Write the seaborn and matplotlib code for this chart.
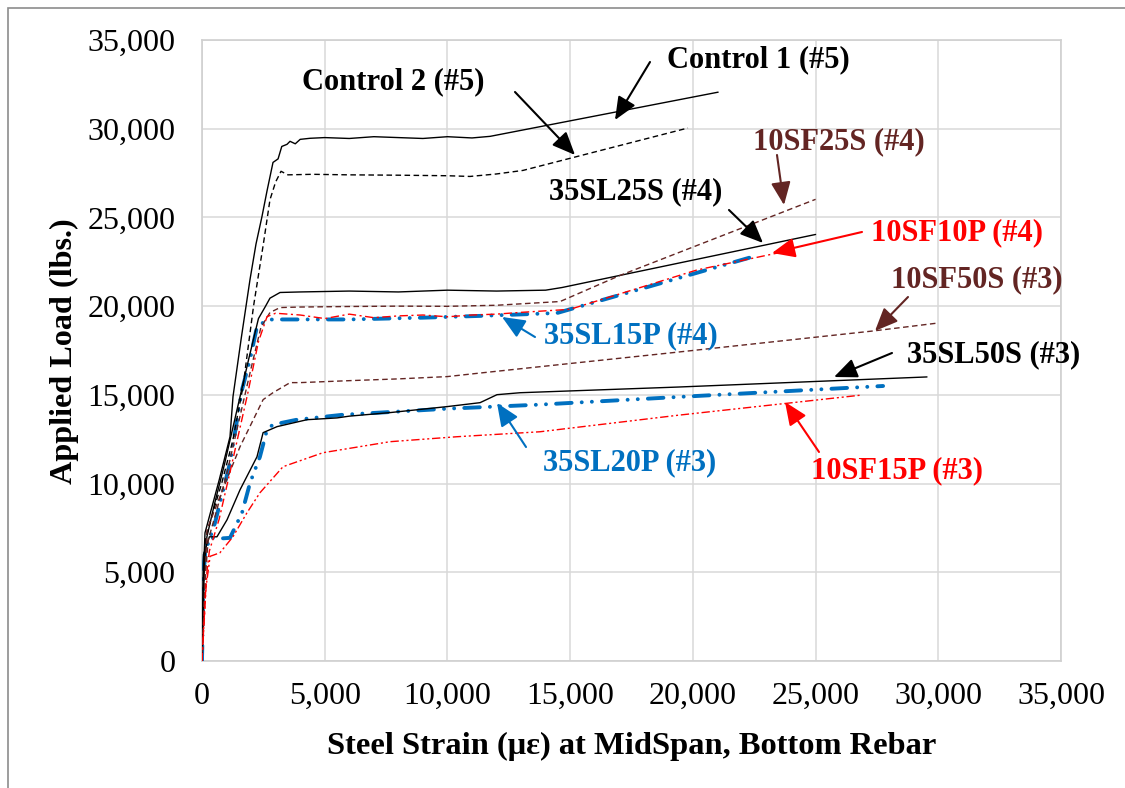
import matplotlib
matplotlib.use("Agg")
import matplotlib.pyplot as plt
import matplotlib.patches as mpatches
import seaborn as sns
import pandas as pd

# ---------------- data (strain in micro-strain, load in lbs) ----------------
c1_strain = [0, 60, 122, 407, 700, 1141, 1263, 1600, 1956, 2200, 2445, 2650, 2893, 3100, 3250, 3464, 3586, 3800, 4000, 4400, 5000, 6000, 7000, 8000, 9000, 10000, 11000, 11740, 21030]
c1_load = [0, 5000, 7220, 8690, 10200, 12640, 14900, 18200, 21500, 23500, 25060, 26500, 28100, 28300, 29000, 29120, 29290, 29150, 29400, 29460, 29500, 29450, 29550, 29500, 29450, 29550, 29480, 29570, 32060]

c2_strain = [0, 80, 150, 450, 800, 1250, 1670, 2100, 2500, 2770, 3000, 3220, 3500, 4500, 6000, 8000, 10000, 10920, 12000, 13080, 19800]
c2_load = [0, 5000, 6900, 8400, 10000, 12400, 15460, 20000, 23500, 26000, 27000, 27600, 27400, 27430, 27400, 27380, 27350, 27310, 27450, 27650, 30040]

sl25s_strain = [0, 100, 200, 500, 900, 1400, 1900, 2300, 2570, 2770, 3180, 4000, 6000, 8000, 10000, 12000, 14000, 14670, 25000]
sl25s_load = [0, 5500, 7000, 8800, 11000, 14000, 17000, 19300, 19950, 20450, 20770, 20800, 20850, 20800, 20900, 20850, 20900, 21050, 24040]

sf25s_strain = [0, 150, 250, 600, 1000, 1500, 2000, 2400, 2770, 3180, 4000, 6000, 8000, 10000, 12000, 14590, 17030, 25000]
sf25s_load = [0, 5000, 6800, 8500, 10500, 13500, 16500, 18800, 19640, 19920, 19950, 19980, 20000, 19990, 20050, 20260, 21730, 26020]

sf10p_strain = [0, 200, 300, 700, 1200, 1870, 2300, 2650, 3000, 4000, 5000, 6000, 7000, 8000, 9000, 10000, 11000, 12000, 13000, 14990, 20170, 23540]
sf10p_load = [0, 5000, 6200, 8000, 11000, 15120, 18000, 19410, 19600, 19500, 19300, 19550, 19350, 19450, 19500, 19400, 19500, 19550, 19650, 19820, 22040, 23020]

sl15p_strain = [0, 40, 122, 530, 1140, 1630, 1956, 2240, 2690, 3000, 6000, 9000, 11330, 14460, 22330]
sl15p_load = [0, 4570, 6100, 7790, 11160, 15290, 16990, 18850, 19240, 19250, 19250, 19350, 19450, 19610, 22740]

sf50s_strain = [0, 200, 730, 1550, 2490, 2890, 3590, 4000, 6000, 8000, 10000, 11330, 19390, 27340, 30000]
sf50s_load = [0, 7400, 9260, 12080, 14730, 15120, 15690, 15690, 15800, 15900, 16030, 16230, 17410, 18600, 19050]

sl50s_strain = [0, 60, 300, 610, 1020, 1550, 2240, 2490, 3060, 4280, 5500, 6000, 7660, 10000, 11330, 12020, 12960, 19390, 29540]
sl50s_load = [0, 6000, 7000, 7000, 7960, 9650, 11510, 12870, 13210, 13600, 13700, 13800, 14000, 14340, 14560, 15010, 15120, 15440, 16010]

sl20p_strain = [0, 40, 150, 300, 700, 1140, 1630, 1960, 2360, 2650, 2890, 3870, 5750, 10000, 13770, 19390, 27750]
sl20p_load = [0, 4500, 6500, 6950, 6900, 6940, 8350, 10050, 11510, 13040, 13320, 13600, 13880, 14220, 14450, 14880, 15500]

sf15p_strain = [0, 150, 330, 730, 1260, 1830, 2360, 3300, 4930, 7660, 10390, 13770, 19390, 26890]
sf15p_load = [0, 4000, 5900, 6100, 7000, 8350, 9480, 10950, 11740, 12360, 12640, 12920, 13850, 14990]

x_ticks = [0, 5000, 10000, 15000, 20000, 25000, 30000, 35000]
y_ticks = [0, 5000, 10000, 15000, 20000, 25000, 30000, 35000]

labels = ["Control 1 (#5)", "Control 2 (#5)", "10SF25S (#4)", "35SL25S (#4)", "10SF10P (#4)",
          "10SF50S (#3)", "35SL50S (#3)", "10SF15P (#3)", "35SL15P (#4)", "35SL20P (#3)"]

# ---------------- style ----------------
sns.set_style("white")
plt.rcParams["font.family"] = ["Liberation Serif", "DejaVu Serif"]
plt.rcParams["axes.labelcolor"] = "black"
plt.rcParams["text.color"] = "black"

BLACK = "#000000"
BROWN = "#632523"
RED = "#FF0000"
BLUE = "#0070C0"

fig = plt.figure(figsize=(11.25, 7.88), dpi=100)
ax = fig.add_axes([202 / 1125, 1 - 661 / 788, 859 / 1125, 621 / 788])

def draw(xs, ys, color, lw, ls, z=3, cap="butt"):
    df = pd.DataFrame({"x": xs, "y": ys})
    n0 = len(ax.lines)
    sns.lineplot(data=df, x="x", y="y", ax=ax, color=color, linewidth=lw,
                 sort=False, estimator=None, zorder=z)
    ln = ax.lines[n0]
    ln.set_linestyle(ls)
    ln.set_dash_capstyle(cap)
    return ln

blue_ls = (0, (4.0, 2.6, 0.01, 2.6, 0.01, 2.6))
draw(sl15p_strain, sl15p_load, BLUE, 2.8, blue_ls, z=3, cap="round")
draw(sl20p_strain, sl20p_load, BLUE, 2.8, blue_ls, z=3, cap="round")
draw(c1_strain, c1_load, BLACK, 1.0, "-", z=4)
draw(c2_strain, c2_load, BLACK, 1.0, (0, (4, 2.5)), z=4)
draw(sl25s_strain, sl25s_load, BLACK, 1.0, "-", z=4)
draw(sl50s_strain, sl50s_load, BLACK, 1.0, "-", z=4)
draw(sf25s_strain, sf25s_load, BROWN, 1.0, (0, (4, 2.5)), z=4)
draw(sf50s_strain, sf50s_load, BROWN, 1.0, (0, (4, 2.5)), z=4)
draw(sf10p_strain, sf10p_load, RED, 1.0, (0, (6, 2.5, 1.5, 2.5)), z=4)
draw(sf15p_strain, sf15p_load, RED, 1.0, (0, (6, 2, 1.5, 2, 1.5, 2)), z=4)

ax.set_xlim(0, 35000)
ax.set_ylim(0, 35000)
ax.set_xticks(x_ticks)
ax.set_yticks(y_ticks)
ax.set_xticklabels([f"{v:,}" for v in x_ticks])
ax.set_yticklabels([f"{v:,}" for v in y_ticks])
ax.tick_params(axis="both", length=0, labelsize=23, colors="black")
ax.tick_params(axis="x", pad=15)
ax.tick_params(axis="y", pad=19)
ax.grid(True, color="#d9d9d9", linewidth=1.1)
ax.set_axisbelow(True)
for s in ax.spines.values():
    s.set_color("#d0d0d0")
    s.set_linewidth(1.2)

ax.set_xlabel("Steel Strain (με) at MidSpan, Bottom Rebar", fontsize=23.4,
              fontweight="bold", color="black")
ax.set_ylabel("Applied Load (lbs.)", fontsize=23.2, fontweight="bold", color="black")
ax.xaxis.set_label_coords(0.5, -0.137)
ax.xaxis.label.set_va("center")
ax.yaxis.set_label_coords(-0.160, 0.499)
ax.yaxis.label.set_va("center")

# ---------------- annotations ----------------
# (label, text x, text y, colour, tail x, tail y, head x, head y)
notes = [
    (labels[0], 22650, 33870, BLACK, 18254, 33760, 16827, 30490),
    (labels[1], 7782, 32630, BLACK, 12753, 32070, 15198, 28520),
    (labels[2], 25955, 29250, BROWN, 23428, 28520, 23713, 25700),
    (labels[3], 17683, 26430, BLACK, 21472, 25420, 22858, 23560),
    (labels[4], 30763, 24120, RED, 26892, 24180, 23225, 22995),
    (labels[5], 31577, 21470, BROWN, 28766, 20515, 27421, 18600),
    (labels[6], 32270, 17250, BLACK, 28114, 17360, 25751, 16006),
    (labels[7], 28318, 10710, RED, 25140, 11780, 23755, 14600),
    (labels[8], 17480, 18320, BLUE, 13568, 18260, 12224, 19390),
    (labels[9], 17440, 11160, BLUE, 13202, 12060, 12020, 14540),
]
for txt, tx, ty, col, ax0, ay0, hx, hy in notes:
    ax.text(tx, ty, txt, color=col, fontsize=22, fontweight="bold",
            ha="center", va="center", zorder=6)
    ax.annotate("", xy=(hx, hy), xytext=(ax0, ay0),
                arrowprops=dict(arrowstyle="-|>,head_length=0.7,head_width=0.3",
                                mutation_scale=20, color=col, lw=1.5,
                                shrinkA=0, shrinkB=0), zorder=6)

# outer chart border (partially visible)
fig.patches.append(mpatches.Rectangle((8 / 1125, -0.2), 1.2, 1 - 8 / 788 + 0.2,
                                      transform=fig.transFigure, fill=False,
                                      edgecolor="#8c8c8c", linewidth=1.2))

fig.savefig("out.png", dpi=100)
